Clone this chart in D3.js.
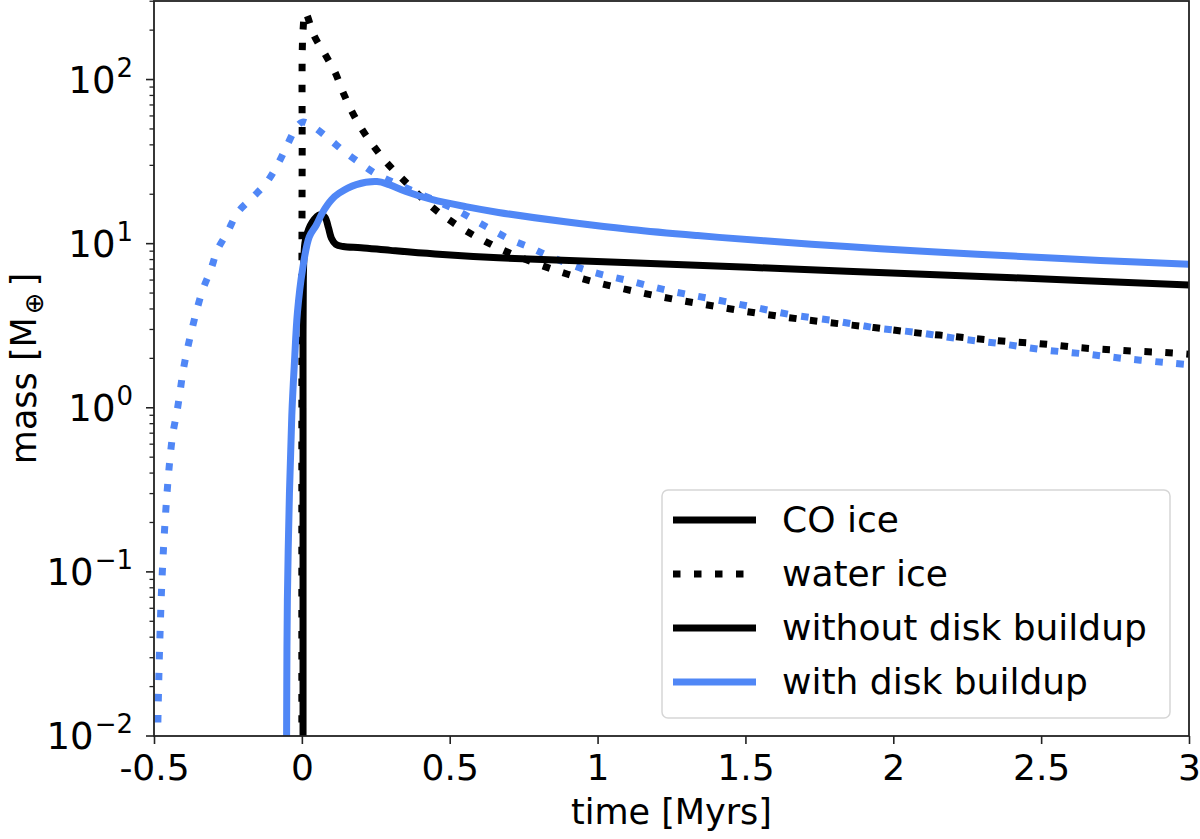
<!DOCTYPE html>
<meta charset="utf-8">
<script src="https://d3js.org/d3.v7.min.js"></script>
<style>
body { margin: 0; background: white; }
text { font-family: "DejaVu Sans", sans-serif; fill: black; }
</style>
<div id="chart"></div>
<script>
// series: [time in Myrs, mass in Earth masses]
var coNoBuild = [[0.004,0.005],[0.004,1],[0.004,3],[0.005,6],[0.007,8.2],[0.012,10.5],[0.035,13.5],[0.062,15],[0.078,14.5],[0.09,12.5],[0.1,10.8],[0.115,9.9],[0.14,9.6],[0.2,9.45],[0.3,9.1],[0.45,8.65],[0.665,8.2],[1.113,7.65],[1.843,6.8],[2.406,6.2],[3.0,5.6]];
var coBuild = [[-0.052,0.005],[-0.051,0.02],[-0.049,0.067],[-0.042,0.3],[-0.034,0.9],[-0.025,1.9],[-0.015,3.8],[0.002,6.9],[0.025,11],[0.049,13],[0.07,15.5],[0.1,18.5],[0.126,20.3],[0.184,22.9],[0.254,23.9],[0.295,22.9],[0.352,20.8],[0.439,18.6],[0.554,16.8],[0.665,15.5],[0.891,13.6],[1.113,12.2],[1.338,11.2],[1.564,10.4],[1.843,9.6],[2.1,9.0],[2.406,8.4],[2.7,7.9],[3.0,7.5]];
var waterNoBuild = [[0.0,0.005],[0.0,1],[0.001,30],[0.004,200],[0.012,255],[0.042,184],[0.079,142],[0.113,110],[0.14,83],[0.169,64],[0.204,49.5],[0.244,39],[0.288,31],[0.338,25],[0.439,16.8],[0.497,14],[0.557,11.9],[0.621,10.3],[0.682,9.1],[0.817,7.3],[0.951,6.1],[1.089,5.3],[1.227,4.7],[1.365,4.25],[1.507,3.85],[1.648,3.54],[1.786,3.3],[1.934,3.08],[2.072,2.87],[2.214,2.71],[2.355,2.56],[2.493,2.46],[2.635,2.32],[2.779,2.23],[2.918,2.17],[3.0,2.12]];
var waterBuild = [[-0.491,0.005],[-0.482,0.03],[-0.473,0.09],[-0.462,0.21],[-0.448,0.45],[-0.436,0.7],[-0.423,0.93],[-0.412,1.25],[-0.402,1.66],[-0.389,2.19],[-0.372,2.99],[-0.355,3.96],[-0.335,5.25],[-0.308,6.94],[-0.285,9.2],[-0.251,11.8],[-0.217,15.5],[-0.167,19.1],[-0.12,23.5],[-0.082,30.3],[-0.052,39],[-0.019,51],[0.002,55],[0.032,52.5],[0.089,44],[0.143,36.4],[0.2,30.7],[0.254,26.4],[0.52,16.1],[0.581,14],[0.641,12.2],[0.705,10.6],[0.773,9.46],[0.833,8.45],[0.968,6.84],[1.106,5.94],[1.244,5.16],[1.382,4.62],[1.52,4.13],[1.655,3.69],[1.8,3.39],[1.941,3.07],[2.083,2.87],[2.224,2.63],[2.362,2.46],[2.503,2.26],[2.645,2.13],[2.786,1.99],[2.928,1.88],[3.0,1.83]];

var xTicks = [-0.5,0,0.5,1,1.5,2,2.5,3];
var xTickLabels = ["-0.5","0","0.5","1","1.5","2","2.5","3"];
var yTicks = [0.01,0.1,1,10,100];
var yTickExp = ["\u22122","\u22121","0","1","2"];
var legendLabels = ["CO ice","water ice","without disk buildup","with disk buildup"];

var blue = "#5087f6";

var margin = {top: 1, right: 11, bottom: 103, left: 154},
    width = 1200 - margin.left - margin.right,
    height = 839 - margin.top - margin.bottom;

var svg = d3.select("#chart")
  .append("svg")
    .attr("width", 1200)
    .attr("height", 839)
  .append("g")
    .attr("transform", "translate(" + margin.left + "," + margin.top + ")");

var x = d3.scaleLinear().domain([-0.5, 3]).range([0, width]);
var y = d3.scaleLog().domain([0.01, 301]).range([height, 0]);

svg.append("clipPath").attr("id", "clip")
  .append("rect").attr("width", width).attr("height", height);

var line = d3.line()
  .x(function(d){ return x(d[0]); })
  .y(function(d){ return y(d[1]); })
  .curve(d3.curveCatmullRom.alpha(0.5));

var plot = svg.append("g").attr("clip-path", "url(#clip)");

// draw order roughly like the original
plot.append("path").datum(waterBuild)
  .attr("d", line).attr("fill","none").attr("stroke", blue)
  .attr("stroke-width", 7).attr("stroke-dasharray", "7.5,13.5");
plot.append("path").datum(waterNoBuild)
  .attr("d", line).attr("fill","none").attr("stroke", "black")
  .attr("stroke-width", 7).attr("stroke-dasharray", "7.5,13.5");
plot.append("path").datum(coNoBuild)
  .attr("d", line).attr("fill","none").attr("stroke", "black")
  .attr("stroke-width", 7);
plot.append("path").datum(coBuild)
  .attr("d", line).attr("fill","none").attr("stroke", blue)
  .attr("stroke-width", 7);

// x axis
var xAxis = svg.append("g")
  .attr("transform", "translate(0," + height + ")")
  .call(d3.axisBottom(x).tickValues(xTicks).tickSize(8).tickPadding(10)
    .tickFormat(function(d,i){ return xTickLabels[i]; }));
xAxis.select(".domain").remove();
xAxis.selectAll("line").attr("stroke","#222").attr("stroke-width",1.6);
xAxis.selectAll("text").style("font-size","36px").style("font-family","DejaVu Sans").attr("fill","black");

// y axis: minor ticks
var minor = [];
[0.01,0.1,1,10,100].forEach(function(dec){
  for (var k = 2; k <= 9; k++) if (dec*k <= 301) minor.push(dec*k);
});
svg.append("g").selectAll("line").data(minor).enter().append("line")
  .attr("x1", -4.5).attr("x2", 0)
  .attr("y1", function(d){ return y(d); }).attr("y2", function(d){ return y(d); })
  .attr("stroke","#222").attr("stroke-width",1.3);
svg.append("g").selectAll("line").data(yTicks).enter().append("line")
  .attr("x1", -8).attr("x2", 0)
  .attr("y1", function(d){ return y(d); }).attr("y2", function(d){ return y(d); })
  .attr("stroke","#222").attr("stroke-width",1.6);

var ylab = svg.append("g").selectAll("text").data(yTicks).enter().append("text")
  .attr("x", -21)
  .attr("y", function(d){ return y(d) + 13; })
  .attr("text-anchor","end")
  .style("font-size","37px");
ylab.append("tspan").text("10");
ylab.append("tspan").attr("dy", -16).attr("dx", 1).style("font-size","26px")
  .text(function(d,i){ return yTickExp[i]; });

// frame
svg.append("rect").attr("width", width).attr("height", height)
  .attr("fill","none").attr("stroke","#222").attr("stroke-width",1.8);

// axis titles
svg.append("text")
  .attr("x", width/2).attr("y", height + 88)
  .attr("text-anchor","middle").style("font-size","35px")
  .text("time [Myrs]");

var yt = svg.append("text")
  .attr("transform","translate(" + (-118) + "," + (height/2) + ") rotate(-90)")
  .attr("text-anchor","middle").style("font-size","35px");
yt.append("tspan").text("mass [M");
yt.append("tspan").attr("dy", 7).attr("dx", 3).style("font-size","26px").text("\u2295");
yt.append("tspan").attr("dy", -7).attr("dx", 6).text("]");

// legend
var lg = svg.append("g").attr("transform","translate(" + (width - 527) + "," + (height - 246) + ")");
lg.append("rect").attr("width", 508).attr("height", 228).attr("rx", 6)
  .attr("fill","white").attr("fill-opacity",0.85).attr("stroke","#d6d6d6").attr("stroke-width",1.5);
var lstyle = [
  {c:"black", dash:null},
  {c:"black", dash:"7.5,13.5"},
  {c:"black", dash:null},
  {c:blue, dash:null}
];
var rows = lg.selectAll("g.row").data(legendLabels).enter().append("g")
  .attr("transform", function(d,i){ return "translate(0," + (30 + i*54) + ")"; });
rows.append("line").attr("x1", 11).attr("x2", 94).attr("y1",0).attr("y2",0)
  .attr("stroke", function(d,i){ return lstyle[i].c; })
  .attr("stroke-width", 7)
  .attr("stroke-dasharray", function(d,i){ return lstyle[i].dash; });
rows.append("text").attr("x", 120).attr("y", 12)
  .style("font-size","36px")
  .text(function(d){ return d; });
</script>
